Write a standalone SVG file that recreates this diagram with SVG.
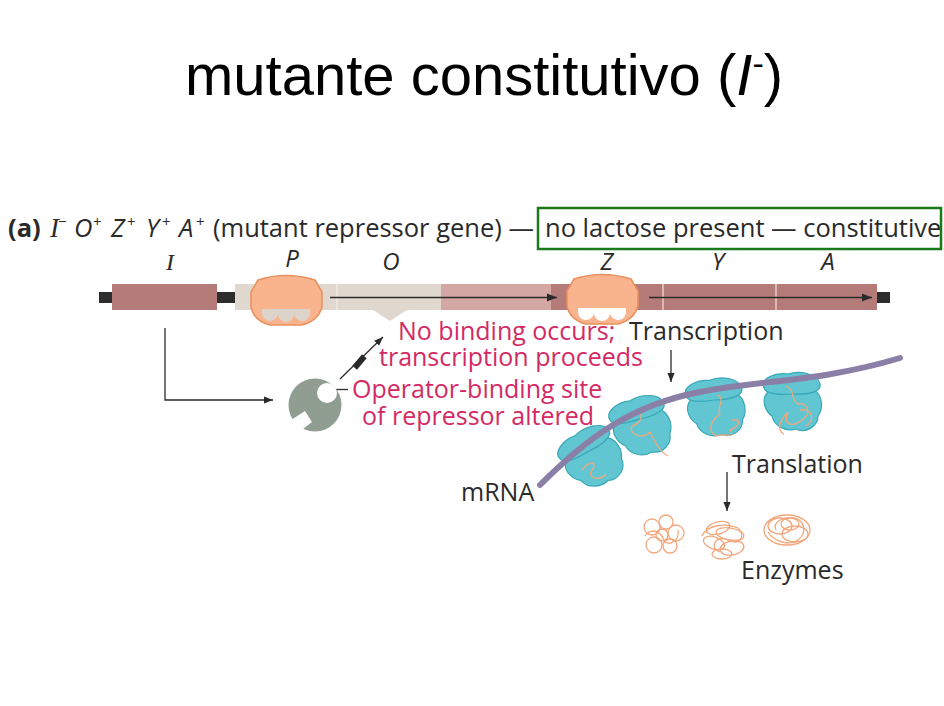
<svg xmlns="http://www.w3.org/2000/svg" width="944" height="706" viewBox="0 0 944 706">
<defs>
<style>
.title{font-family:"Liberation Sans",Arial,sans-serif;font-size:58px;fill:#000}
.hdr{font-family:"Open Sans","Noto Sans",sans-serif;font-size:25.5px;fill:#2a2a2a}
.sup{font-size:15px}
.it{font-style:italic}
.lbl{font-family:"Open Sans","Noto Sans",sans-serif;font-size:24px;fill:#2a2a2a;font-style:italic}
.serifi{font-family:"Liberation Serif",serif;font-style:italic}
.red{font-family:"Open Sans","Noto Sans",sans-serif;font-size:25px;fill:#d42a64}
.blk{font-family:"Open Sans","Noto Sans",sans-serif;font-size:25px;fill:#2a2a2a}
.poly{fill:#f9b38d;stroke:#e9905e;stroke-width:1.5}
.conn{fill:none;stroke:#2a2a2a;stroke-width:1.3}
.rib{fill:#62c6d2;stroke:#37a8b6;stroke-width:1.2}
.strand{fill:none;stroke:#f2a77c;stroke-width:1.3}
</style>
<marker id="ah" viewBox="0 0 10 10" refX="10" refY="5" markerWidth="9" markerHeight="9" markerUnits="userSpaceOnUse" orient="auto">
<path d="M0,1 L10,5 L0,9 Z" fill="#2a2a2a"/>
</marker>
<marker id="ah2" viewBox="0 0 10 10" refX="10" refY="5" markerWidth="12" markerHeight="10" markerUnits="userSpaceOnUse" orient="auto">
<path d="M0,1 L10,5 L0,9 Z" fill="#2a2a2a"/>
</marker>
<g id="ribo">
<path class="rib" d="M-24,-6 C-32,2 -26,14 -20,18 C-18,28 -6,34 4,31 C14,36 26,28 26,18 C32,10 30,-4 22,-8 Z"/>
<path class="rib" d="M-28,-10 C-32,-20 -16,-26 -4,-24 C8,-28 26,-24 28,-14 C30,-6 16,-3 0,-4 C-14,-3 -26,-4 -28,-10 Z"/>
</g>
</defs>

<rect width="944" height="706" fill="#fff"/>

<text class="title" x="185" y="95">mutante constitutivo (<tspan font-style="italic">I</tspan><tspan font-size="34" dy="-20">-</tspan><tspan dy="20">)</tspan></text>

<g id="header">
<text class="hdr" y="237"><tspan x="8" font-weight="bold">(a)</tspan><tspan x="50" class="serifi" font-size="27">I</tspan><tspan x="58" class="sup" dy="-10">−</tspan><tspan x="74" class="it" dy="10">O</tspan><tspan x="93" class="sup" dy="-10">+</tspan><tspan x="111" class="it" dy="10">Z</tspan><tspan x="127" class="sup" dy="-10">+</tspan><tspan x="146" class="it" dy="10">Y</tspan><tspan x="162" class="sup" dy="-10">+</tspan><tspan x="179" class="it" dy="10">A</tspan><tspan x="196" class="sup" dy="-10">+</tspan><tspan x="213" dy="10">(mutant repressor gene) —</tspan><tspan x="545">no lactose present — constitutive</tspan></text>
<rect x="538" y="208" width="403" height="41" fill="none" stroke="#1a7a1a" stroke-width="2.5"/>
</g>

<g id="labels">
<text class="lbl serifi" x="170" y="270" font-size="27" text-anchor="middle">I</text>
<text class="lbl" x="292" y="267" text-anchor="middle">P</text>
<text class="lbl" x="391" y="270" text-anchor="middle">O</text>
<text class="lbl" x="607" y="270" text-anchor="middle">Z</text>
<text class="lbl" x="718" y="270" text-anchor="middle">Y</text>
<text class="lbl" x="828" y="270" text-anchor="middle">A</text>
</g>

<g id="dna">
<rect x="99" y="292" width="14" height="11" fill="#2d2d2d"/>
<rect x="217" y="292" width="18" height="11" fill="#2d2d2d"/>
<rect x="876" y="292" width="14" height="11" fill="#2d2d2d"/>
<rect x="112" y="284" width="105" height="26" fill="#b57b79"/>
<rect x="235" y="284" width="206" height="26" fill="#e0d8cf"/>
<line x1="337" y1="284" x2="337" y2="310" stroke="#f4efea" stroke-width="1.2"/>
<polygon points="373,310 407,310 390,321" fill="#e0d8cf"/>
<rect x="441" y="284" width="111" height="26" fill="#d4a7a4"/>
<rect x="551" y="284" width="326" height="26" fill="#b57b79"/>
<line x1="663" y1="284" x2="663" y2="310" stroke="#f3e3e2" stroke-width="1.2"/>
<line x1="776" y1="284" x2="776" y2="310" stroke="#f3e3e2" stroke-width="1.2"/>
</g>

<g id="connectors">
<line class="conn" x1="330" y1="297.5" x2="557" y2="297.5" marker-end="url(#ah2)"/>
<line class="conn" x1="649" y1="297.5" x2="872" y2="297.5" marker-end="url(#ah2)"/>
<polyline class="conn" points="165,328 165,400 273,400" marker-end="url(#ah)"/>
<line class="conn" x1="340" y1="379" x2="383" y2="337" marker-end="url(#ah)"/>
<rect x="352" y="359" width="15" height="6" fill="#2a2a2a" transform="rotate(-50 359.5 362)"/>
<line class="conn" x1="334" y1="389.5" x2="348" y2="389.5" stroke-width="1"/>
<line class="conn" x1="671" y1="350" x2="671" y2="382" marker-end="url(#ah)"/>
<line class="conn" x1="727" y1="472" x2="727" y2="511" marker-end="url(#ah)"/>
</g>

<g id="polymerase1">
<path class="poly" d="M258,280 Q286,271 315,280 L322,292 L322,307 Q318,321 302,325 L270,325 Q254,321 251,307 L251,292 Z"/>
<path d="M262,309 L310,309 L310,312 A8,8 0 0 1 294,314 A8,8 0 0 1 278,314 A8,8 0 0 1 262,312 Z" fill="#dcd3ca"/>
</g>
<g id="polymerase2">
<path class="poly" d="M574,279 Q602,270 631,279 L638,291 L638,306 Q634,320 618,324 L586,324 Q570,320 567,306 L567,291 Z"/>
<path d="M578,308 L626,308 L626,311 A8,8 0 0 1 610,313 A8,8 0 0 1 594,313 A8,8 0 0 1 578,311 Z" fill="#ffffff"/>
</g>

<g id="repressor">
<circle cx="315" cy="405" r="26.5" fill="#8f9e90"/>
<circle cx="327" cy="393" r="10" fill="#ffffff"/>
<polygon points="291,420 305,411 312,422 299,432" fill="#ffffff"/>
</g>

<g id="red-text">
<text class="red" x="398" y="340">No binding occurs;</text>
<text class="red" x="379" y="366">transcription proceeds</text>
<text class="red" x="352" y="398">Operator-binding site</text>
<text class="red" x="362" y="425">of  repressor altered</text>
</g>

<g id="texts">
<text class="blk" x="629" y="340">Transcription</text>
<text class="blk" x="732" y="473">Translation</text>
<text class="blk" x="461" y="501">mRNA</text>
<text class="blk" x="741" y="579">Enzymes</text>
</g>

<g id="ribosomes">
<use href="#ribo" transform="translate(590,455) rotate(-28)"/>
<use href="#ribo" transform="translate(640,423) rotate(-15)"/>
<use href="#ribo" transform="translate(715,404) rotate(-5)"/>
<use href="#ribo" transform="translate(792,398)"/>
<path class="strand" d="M582,470 C590,460 598,462 592,470 C586,478 600,482 606,474"/>
<path class="strand" d="M636,410 C646,414 640,424 632,426 C628,434 642,440 650,432 C656,444 660,452 668,456"/>
<path class="strand" d="M718,395 C726,400 716,408 720,414 C712,420 706,430 716,436 C726,432 736,440 730,430 C740,426 742,418 732,420"/>
<path class="strand" d="M786,386 C796,390 790,400 798,404 C808,402 812,414 802,420 C792,428 782,424 788,412 C780,420 776,430 784,434 M800,410 C812,408 816,420 806,426"/>
<path d="M540,485 C585,440 630,405 700,392 C760,380 820,382 900,358" fill="none" stroke="#8a7fa6" stroke-width="6" stroke-linecap="round"/>
</g>

<g id="enzymes" class="strand">
<circle cx="652" cy="527" r="8"/>
<circle cx="666" cy="522" r="7"/>
<circle cx="676" cy="533" r="8"/>
<circle cx="670" cy="546" r="7"/>
<circle cx="654" cy="545" r="8"/>
<circle cx="662" cy="535" r="6"/>
<path d="M645,536 C650,528 660,530 664,540 C668,548 680,540 678,530"/>
<ellipse cx="718" cy="528" rx="12" ry="6" transform="rotate(-15 718 528)"/>
<ellipse cx="730" cy="534" rx="14" ry="6" transform="rotate(10 730 534)"/>
<ellipse cx="714" cy="543" rx="11" ry="6" transform="rotate(20 714 543)"/>
<ellipse cx="732" cy="548" rx="12" ry="7" transform="rotate(-10 732 548)"/>
<ellipse cx="722" cy="554" rx="10" ry="5"/>
<path d="M702,536 C706,526 724,522 738,528 C746,536 740,546 728,540 C716,534 708,548 720,552"/>
<ellipse cx="787" cy="530" rx="23" ry="15"/>
<ellipse cx="780" cy="526" rx="12" ry="8"/>
<ellipse cx="795" cy="534" rx="13" ry="8"/>
<ellipse cx="790" cy="524" rx="9" ry="6"/>
<path d="M768,532 C774,542 790,546 798,540 C808,532 804,520 794,518 C784,516 772,522 776,530"/>
</g>
</svg>
